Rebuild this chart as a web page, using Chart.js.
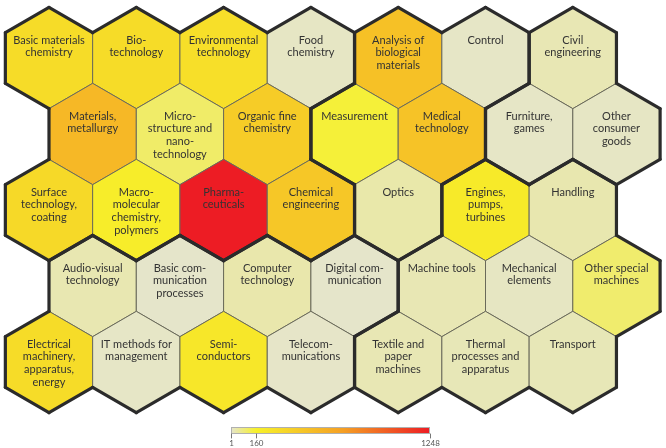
<!DOCTYPE html>
<html>
<head>
<meta charset="utf-8">
<script src="https://cdn.jsdelivr.net/npm/chart.js@4.4.1/dist/chart.umd.min.js"></script>
<style>
    html, body { margin: 0; padding: 0; background: #fff; }
    #wrap { width: 666px; height: 448px; position: relative; }
</style>
</head>
<body>
<div id="wrap"><canvas id="myChart"></canvas></div>
<script>
// 35 technology fields, read row by row (7 per row, odd rows shifted half a cell)
const fields = [
    "Basic materials\nchemistry", "Bio-\ntechnology", "Environmental\ntechnology", "Food\nchemistry",
    "Analysis of\nbiological\nmaterials", "Control", "Civil\nengineering",
    "Materials,\nmetallurgy", "Micro-\nstructure and\nnano-\ntechnology", "Organic fine\nchemistry", "Measurement",
    "Medical\ntechnology", "Furniture,\ngames", "Other\nconsumer\ngoods",
    "Surface\ntechnology,\ncoating", "Macro-\nmolecular\nchemistry,\npolymers", "Pharma-\nceuticals", "Chemical\nengineering",
    "Optics", "Engines,\npumps,\nturbines", "Handling",
    "Audio-visual\ntechnology", "Basic com-\nmunication\nprocesses", "Computer\ntechnology", "Digital com-\nmunication",
    "Machine tools", "Mechanical\nelements", "Other special\nmachines",
    "Electrical\nmachinery,\napparatus,\nenergy", "IT methods for\nmanagement", "Semi-\nconductors", "Telecom-\nmunications",
    "Textile and\npaper\nmachines", "Thermal\nprocesses and\napparatus", "Transport"
];

// sector of each field (thick borders between sectors)
const sectors = [
    "Chem", "Chem", "Chem", "Chem", "Instr", "Instr", "Other",
    "Chem", "Chem", "Chem", "Instr", "Instr", "Other", "Other",
    "Chem", "Chem", "Chem", "Chem", "Instr", "Mech", "Mech",
    "Elec", "Elec", "Elec", "Elec", "Mech", "Mech", "Mech",
    "Elec", "Elec", "Elec", "Elec", "Mech", "Mech", "Mech"
];

// counts (estimated from the colour of each cell)
const counts = [
    300, 300, 280, 10, 480, 8, 25,
    540, 100, 410, 145, 470, 8, 10,
    320, 190, 1248, 440, 35, 210, 30,
    28, 4, 33, 4, 25, 12, 95,
    300, 8, 230, 6, 25, 22, 22
];

const perRow = 7;
const scaleMin = 1;
const scaleMax = 1248;
const scaleTicks = [1, 160, 1248];
// colour ramp stops: value -> rgb
const rampValues = [1, 160, 700, 1248];
const rampColors = [[229, 229, 205], [247, 241, 42], [245, 160, 36], [237, 28, 36]];

function colorFor(v) {
    for (let i = 0; i < rampValues.length - 1; i++) {
        if (v <= rampValues[i + 1]) {
            const t = (v - rampValues[i]) / (rampValues[i + 1] - rampValues[i]);
            const a = rampColors[i], b = rampColors[i + 1];
            const c = a.map((x, k) => Math.round(x + (b[k] - x) * t));
            return `rgb(${c[0]},${c[1]},${c[2]})`;
        }
    }
    const c = rampColors[rampColors.length - 1];
    return `rgb(${c[0]},${c[1]},${c[2]})`;
}

const points = fields.map((name, i) => {
    const row = Math.floor(i / perRow);
    const col = i % perRow;
    return { x: col + (row % 2 ? 0.5 : 0), y: row, name, value: counts[i], sector: sectors[i] };
});

function findCell(x, y) {
    return points.find(p => Math.abs(p.x - x) < 0.01 && p.y === y);
}

const hexPlugin = {
    id: "hexPlugin",
    afterDatasetsDraw(chart) {
        const ctx = chart.ctx;
        const xs = chart.scales.x, ys = chart.scales.y;
        const hw = (xs.getPixelForValue(1) - xs.getPixelForValue(0)) / 2;
        const R = Math.abs(ys.getPixelForValue(1) - ys.getPixelForValue(0)) / 1.5;

        const corners = (cx, cy) => [
            [cx, cy - R], [cx + hw, cy - R / 2], [cx + hw, cy + R / 2],
            [cx, cy + R], [cx - hw, cy + R / 2], [cx - hw, cy - R / 2]
        ];
        // neighbour across each edge (edge k goes from corner k to k+1)
        const nb = [[0.5, -1], [1, 0], [0.5, 1], [-0.5, 1], [-1, 0], [-0.5, -1]];

        ctx.save();
        // fills + thin borders
        points.forEach(p => {
            const c = corners(xs.getPixelForValue(p.x), ys.getPixelForValue(p.y));
            ctx.beginPath();
            c.forEach(([x, y], k) => k ? ctx.lineTo(x, y) : ctx.moveTo(x, y));
            ctx.closePath();
            ctx.fillStyle = colorFor(p.value);
            ctx.fill();
            ctx.lineWidth = 1;
            ctx.strokeStyle = "#6a6a5a";
            ctx.stroke();
        });
        // thick borders between sectors
        ctx.lineWidth = 3.2;
        ctx.strokeStyle = "#2b2b2b";
        ctx.lineCap = "round";
        points.forEach(p => {
            const c = corners(xs.getPixelForValue(p.x), ys.getPixelForValue(p.y));
            nb.forEach(([dx, dy], k) => {
                const n = findCell(p.x + dx, p.y + dy);
                if (!n || n.sector !== p.sector) {
                    const a = c[k], b = c[(k + 1) % 6];
                    ctx.beginPath();
                    ctx.moveTo(a[0], a[1]);
                    ctx.lineTo(b[0], b[1]);
                    ctx.stroke();
                }
            });
        });
        // labels
        ctx.fillStyle = "#333";
        ctx.font = "11px Lato";
        ctx.textAlign = "center";
        ctx.textBaseline = "middle";
        points.forEach(p => {
            const cx = xs.getPixelForValue(p.x), cy = ys.getPixelForValue(p.y);
            p.name.split("\n").forEach((line, j) => {
                ctx.fillText(line, cx, cy - 18 + j * 12.7);
            });
        });

        // colour bar
        const bx0 = 231, bx1 = 430, by0 = 427, by1 = 434;
        const grad = ctx.createLinearGradient(bx0, 0, bx1, 0);
        rampValues.forEach((v, i) => {
            const c = rampColors[i];
            grad.addColorStop((v - scaleMin) / (scaleMax - scaleMin), `rgb(${c[0]},${c[1]},${c[2]})`);
        });
        ctx.fillStyle = grad;
        ctx.fillRect(bx0, by0, bx1 - bx0, by1 - by0);
        ctx.lineWidth = 1;
        ctx.strokeStyle = "#b0b0b0";
        ctx.strokeRect(bx0 + 0.5, by0 + 0.5, bx1 - bx0 - 1, by1 - by0 - 1);
        ctx.font = "8px Lato";
        ctx.fillStyle = "#555";
        ctx.strokeStyle = "#777";
        scaleTicks.forEach(t => {
            const x = Math.round(bx0 + (t - scaleMin) / (scaleMax - scaleMin) * (bx1 - bx0)) + 0.5;
            ctx.beginPath();
            ctx.moveTo(x, by1);
            ctx.lineTo(x, by1 + 4);
            ctx.stroke();
            ctx.fillText(String(t), x, by1 + 9);
        });
        ctx.restore();
    }
};

new Chart(document.getElementById("myChart"), {
    type: "scatter",
    data: {
        datasets: [{
            label: "Technology fields",
            data: points,
            pointRadius: 0,
            pointHoverRadius: 0,
        }],
    },
    options: {
        responsive: true,
        maintainAspectRatio: false,
        animation: false,
        layout: { padding: 0 },
        plugins: {
            legend: { display: false },
            tooltip: { enabled: false },
        },
        scales: {
            x: { type: "linear", display: false, min: -49 / 87.3, max: (666 - 49) / 87.3 },
            y: { type: "linear", display: false, reverse: true, min: -58 / 76, max: (448 - 58) / 76 },
        },
    },
    plugins: [hexPlugin],
});
</script>
</body>
</html>
